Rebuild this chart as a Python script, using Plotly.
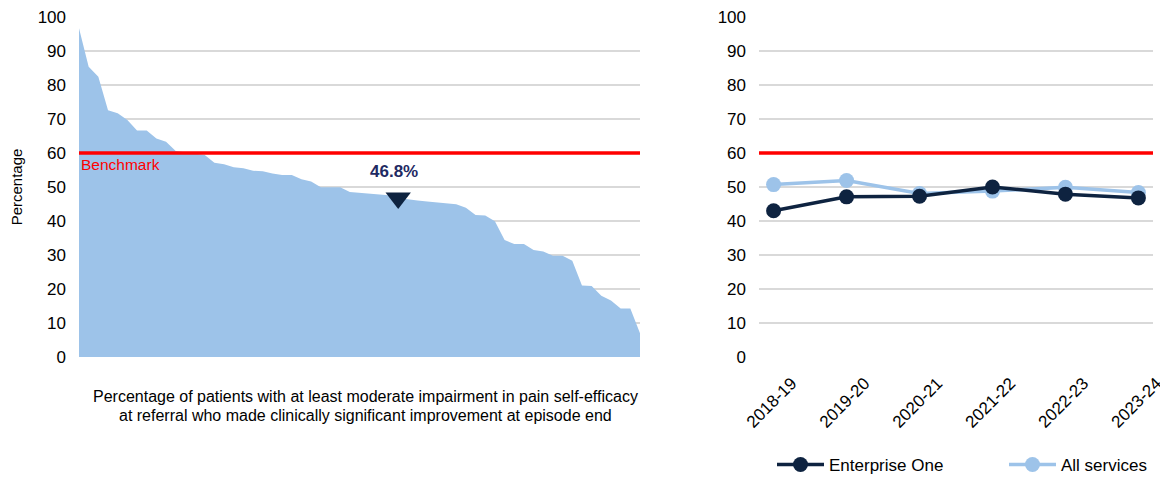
import plotly.graph_objects as go

# Left panel: ranked service values (area) with this service highlighted
service_values = [
    96.7, 85.4, 82.4, 72.6, 71.7, 69.7, 66.6, 66.6, 64.3, 63.3,
    60.6, 60.2, 59.8, 59.4, 57.1, 56.7, 55.8, 55.5, 54.8, 54.6,
    54.0, 53.5, 53.5, 52.3, 51.6, 49.9, 49.9, 49.9, 48.5, 48.3,
    48.1, 47.9, 47.6, 46.8, 46.3, 46.0, 45.7, 45.5, 45.3, 44.9,
    43.9, 41.8, 41.6, 39.9, 34.4, 33.2, 33.2, 31.5, 31.0, 29.8,
    29.8, 28.3, 21.0, 20.9, 18.0, 16.6, 14.3, 14.3, 7.0,
]
highlight_index = 33
highlight_value = 46.8
benchmark = 60

# Right panel: trend over years
years = ["2018-19", "2019-20", "2020-21", "2021-22", "2022-23", "2023-24"]
enterprise_one = [43.0, 47.1, 47.3, 50.0, 47.9, 46.8]
all_services = [50.7, 51.9, 48.1, 48.8, 49.9, 48.4]

caption_lines = [
    "Percentage of patients with at least moderate impairment in pain self-efficacy",
    "at referral who made clinically significant improvement at episode end",
]

FONT = "Liberation Sans, Arial, sans-serif"
NAVY = "#0E2340"
LIGHT = "#9DC3E9"
GRID = "#D9D9D9"

# page has an 8px body margin, so the figure is drawn 8px in from the corner
PAGE = 8
W, H = 1168 - PAGE, 477 - PAGE


def px(x):
    return (x - PAGE) / W


def py(y):
    return 1 - (y - PAGE) / H


fig = go.Figure()

fig.add_trace(go.Scatter(
    x=list(range(len(service_values))), y=service_values,
    mode="lines", fill="tozeroy", fillcolor=LIGHT,
    line=dict(width=0, color=LIGHT), showlegend=False, hoverinfo="skip",
    xaxis="x", yaxis="y",
))
fig.add_trace(go.Scatter(
    x=[highlight_index], y=[highlight_value], mode="markers",
    marker=dict(symbol="triangle-down", size=22, color=NAVY),
    showlegend=False, xaxis="x", yaxis="y",
))

fig.add_trace(go.Scatter(
    x=years, y=all_services, name="All services", mode="lines+markers",
    line=dict(color=LIGHT, width=3.5), marker=dict(size=15, color=LIGHT),
    xaxis="x2", yaxis="y2",
))
fig.add_trace(go.Scatter(
    x=years, y=enterprise_one, name="Enterprise One", mode="lines+markers",
    line=dict(color=NAVY, width=3.5), marker=dict(size=15, color=NAVY),
    xaxis="x2", yaxis="y2",
))

# Benchmark lines
for xr, yr in (("x domain", "y"), ("x2 domain", "y2")):
    fig.add_shape(type="line", xref=xr, yref=yr, x0=0, x1=1,
                  y0=benchmark, y1=benchmark,
                  line=dict(color="#FF0000", width=3.5), layer="above")

fig.add_annotation(x=0, y=benchmark, xref="x", yref="y", text="Benchmark",
                   showarrow=False, xanchor="left", yanchor="top", yshift=-1,
                   font=dict(color="#FF0000", size=15.5, family=FONT))
fig.add_annotation(x=highlight_index, y=highlight_value, xref="x", yref="y",
                   text=f"<b>{highlight_value}%</b>", showarrow=False,
                   yshift=26, xshift=-4,
                   font=dict(color="#1F2A63", size=17, family=FONT))
for line, ypos in zip(caption_lines, (396, 415)):
    fig.add_annotation(x=px(365), y=py(ypos), xref="paper", yref="paper",
                       text=line, showarrow=False,
                       xanchor="center", yanchor="middle",
                       font=dict(size=16, color="#000000", family=FONT))

ydom = [py(357), py(17)]
yaxis_common = dict(
    range=[0, 100], dtick=10, showgrid=True, gridcolor=GRID, gridwidth=1.5,
    zeroline=False, showline=False, ticks="", ticklabelstandoff=12,
    ticklabeloverflow="allow",
    tickfont=dict(size=17, color="#000000", family=FONT), domain=ydom,
    automargin=False, fixedrange=True,
)

fig.update_layout(
    width=W, height=H,
    margin=dict(l=0, r=0, t=0, b=0, autoexpand=False),
    paper_bgcolor="white", plot_bgcolor="white",
    font=dict(family=FONT, color="#000000"),
    xaxis=dict(domain=[px(79), px(640)], range=[0, len(service_values) - 1],
               showgrid=False, zeroline=False, showticklabels=False,
               automargin=False),
    yaxis=dict(**yaxis_common,
               title=dict(text="Percentage", standoff=19,
                          font=dict(size=15, family=FONT))),
    xaxis2=dict(domain=[px(759), px(1153)], range=[-0.2, 5.2],
                showgrid=False, zeroline=False, tickangle=-45,
                ticklabelshift=18, ticklabelstandoff=12,
                ticklabeloverflow="allow",
                tickfont=dict(size=17, color="#000000", family=FONT),
                automargin=False, anchor="y2"),
    yaxis2=dict(**yaxis_common, anchor="x2"),
    legend=dict(orientation="h", x=px(772), y=py(465),
                xanchor="left", yanchor="middle", traceorder="reversed",
                font=dict(size=17, family=FONT), itemwidth=47,
                entrywidth=170),
    showlegend=True,
)

fig.write_html("out.html")
